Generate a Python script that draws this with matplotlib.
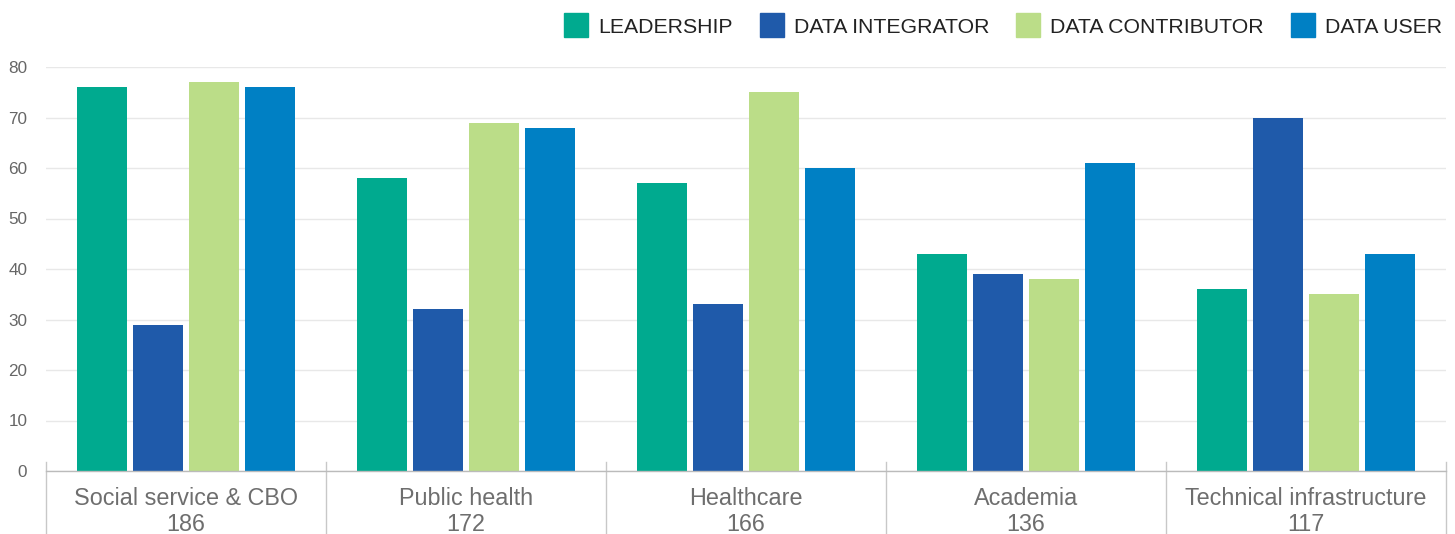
import matplotlib.pyplot as plt
from matplotlib.lines import Line2D
import numpy as np

plt.rcParams['font.family'] = ['Liberation Sans', 'DejaVu Sans']

categories = ['Social service & CBO', 'Public health', 'Healthcare', 'Academia', 'Technical infrastructure']
counts = [186, 172, 166, 136, 117]
series = ['LEADERSHIP', 'DATA INTEGRATOR', 'DATA CONTRIBUTOR', 'DATA USER']
leadership = [76, 58, 57, 43, 36]
integrator = [29, 32, 33, 39, 70]
contributor = [77, 69, 75, 38, 35]
user = [76, 68, 60, 61, 43]
colors = ['#00aa8f', '#1f5aaa', '#bbdd88', '#0080c4']

fig = plt.figure(figsize=(14.55, 5.34), dpi=100)
ax = fig.add_axes([46 / 1455, 63 / 534, 1400 / 1455, 404 / 534])

x = np.arange(len(categories))
width = 0.182
step = 0.2
for i, vals in enumerate([leadership, integrator, contributor, user]):
    ax.bar(x + (i - 1.5) * step, vals, width, color=colors[i], zorder=2)

ax.set_xlim(-0.5, len(categories) - 0.5)
ax.set_ylim(0, 80)
ax.set_yticks(range(0, 81, 10))
ax.yaxis.grid(True, color='#e8e8e8', linewidth=1, zorder=0)
ax.tick_params(axis='y', length=0, labelsize=12.3, labelcolor='#666666', pad=13.5)
ax.set_xticks([])
for s in ['top', 'right', 'left']:
    ax.spines[s].set_visible(False)
ax.spines['bottom'].set_color('#bbbbbb')
ax.spines['bottom'].set_linewidth(1)

trans = ax.get_xaxis_transform()
for b in np.arange(-0.5, len(categories), 1.0):
    ax.plot([b, b], [0.022, -0.16], transform=trans, color='#c8c8c8',
            linewidth=1, clip_on=False)
for i, (c, n) in enumerate(zip(categories, counts)):
    ax.text(i, -0.068, c, transform=trans, ha='center', va='center',
            fontsize=16.8, color='#6e6e6e')
    ax.text(i, -0.132, str(n), transform=trans, ha='center', va='center',
            fontsize=16.8, color='#6e6e6e')

handles = [Line2D([], [], marker='s', linestyle='none', markersize=17.5,
                  markerfacecolor=c, markeredgecolor=c) for c in colors]
fig.legend(handles, series, loc='upper right', bbox_to_anchor=(1461 / 1455, 1.003),
           ncol=4, frameon=False, fontsize=15.3, handlelength=1.13,
           handletextpad=0.47, columnspacing=1.27, labelcolor='#222222')

fig.savefig('out.png', dpi=100)
